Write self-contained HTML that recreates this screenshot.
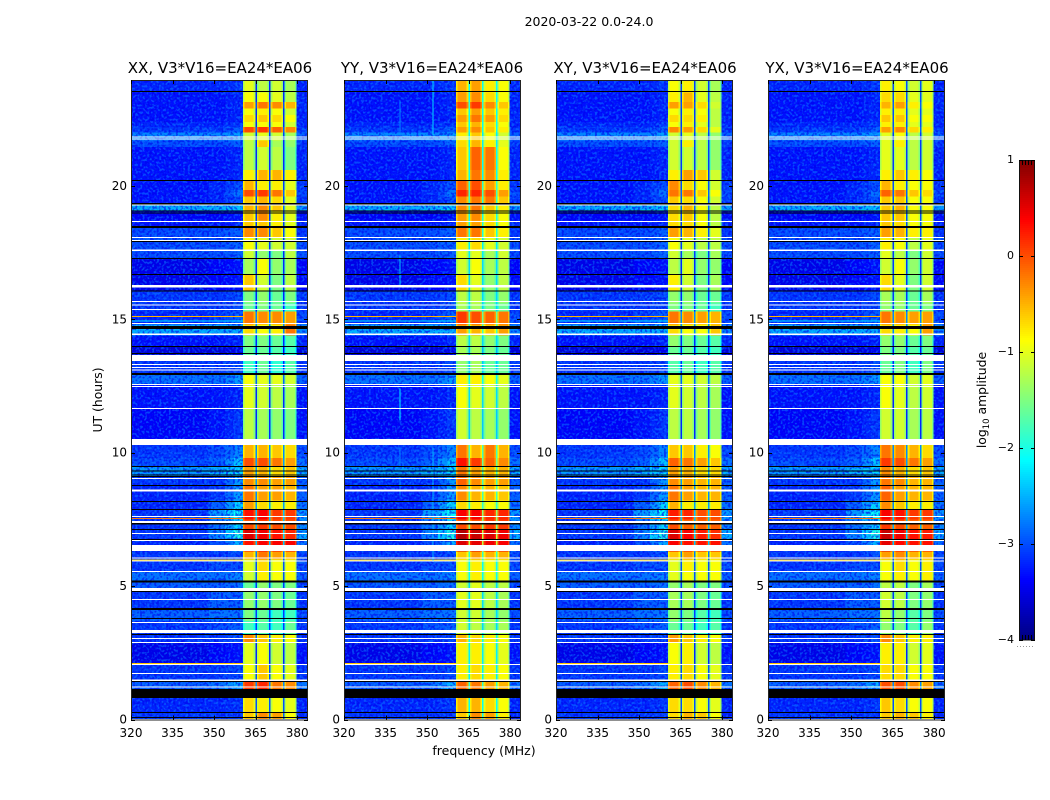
<!DOCTYPE html>
<html lang="en">
<head>
<meta charset="utf-8">
<title>2020-03-22 0.0-24.0</title>
<style>
html,body{margin:0;padding:0;background:#fff;}
svg{display:block;}
text{font-family:"DejaVu Sans","Liberation Sans",sans-serif;fill:#000;}
</style>
</head>
<body>
<svg id="figure" xmlns="http://www.w3.org/2000/svg" width="1050" height="800" viewBox="0 0 1050 800">
  <defs>
    <filter id="speckle-light" x="0" y="0" width="1" height="1" color-interpolation-filters="sRGB">
      <feTurbulence type="fractalNoise" baseFrequency="0.42" numOctaves="1" seed="5"/>
      <feColorMatrix type="matrix" values="0 0 0 0 0.04  0 0 0 0 0.47  0 0 0 0 1  9 0 0 0 -4.5"/>
    </filter>
    <filter id="speckle-dark" x="0" y="0" width="1" height="1" color-interpolation-filters="sRGB">
      <feTurbulence type="fractalNoise" baseFrequency="0.42" numOctaves="1" seed="11"/>
      <feColorMatrix type="matrix" values="0 0 0 0 0  0 0 0 0 0  0 0 0 0 0.92  9 0 0 0 -4.5"/>
    </filter>
  </defs>
  <rect x="0" y="0" width="1050" height="800" fill="#fff"/>
  <text x="589" y="26" font-size="12.5" text-anchor="middle">2020-03-22 0.0-24.0</text>
  <text x="220" y="73" font-size="15" text-anchor="middle">XX, V3*V16=EA24*EA06</text>
  <text x="432" y="73" font-size="15" text-anchor="middle">YY, V3*V16=EA24*EA06</text>
  <text x="645" y="73" font-size="15" text-anchor="middle">XY, V3*V16=EA24*EA06</text>
  <text x="857" y="73" font-size="15" text-anchor="middle">YX, V3*V16=EA24*EA06</text>
  <text x="484" y="755" font-size="12.5" text-anchor="middle">frequency (MHz)</text>
  <text transform="translate(102,400) rotate(-90)" font-size="12.4" text-anchor="middle">UT (hours)</text>
  <text transform="translate(986,400) rotate(-90)" font-size="12.4" text-anchor="middle">log<tspan font-size="8.5" dy="3">10</tspan><tspan dy="-3"> amplitude</tspan></text>
  <g id="panels"></g>
  <g id="colorbar"></g>
</svg>
<script>
// ---------- Axis tick values ----------
const xTickMHz = [320, 335, 350, 365, 380];
const yTickHours = [0, 5, 10, 15, 20];
const colorbarTicks = [1, 0, -1, -2, -3, -4];

// ---------- Frequency structure (MHz) ----------
const backgroundEdges = [320, 348, 354, 357.2, 360.4];
const bandEdges = [[360.4, 364.9], [365.4, 369.9], [370.4, 374.9], [375.4, 379.8]];
const separatorEdges = [[364.9, 365.4], [369.9, 370.4], [374.9, 375.4]];
const rightEdges = [379.8, 384];
const bandShoulderMHz = 0.6;
const bandShoulderDrop = 0.3;
const separatorOffsets = [-0.3, -0.3, -0.3, -0.6];

// ---------- Time rows (UT hours, top to bottom) ----------
const rowEdges = [24, 23.5, 23.15, 22.9, 22.65, 22.4, 22.2, 22, 21.7, 21.45, 20.6, 20.2, 19.85, 19.6, 19.3, 19.05, 18.7, 18.42, 18.08, 17.6, 17.28, 16.68, 16.05, 15.6, 15.3, 14.8, 14.4, 14, 13.44, 12.95, 12.55, 11.65, 10.5, 9.8, 9.5, 9.1, 8.75, 8.2, 7.87, 7.5, 7.12, 6.72, 6.3, 6, 5.55, 5.18, 4.8, 4.14, 3.7, 3.2, 2.9, 2.06, 1.47, 1.14, 0.28, 0];

// log10 amplitude per row: 320-348, 348-354, 354-360.4, 380-384 MHz
const backgroundLevels = [
[-3.2,-3.2,-3.1,-3.2],[-3.3,-3.3,-3.2,-3.2],[-3.3,-3.3,-3.2,-3.2],[-3.3,-3.3,-3.2,-3.2],[-3.3,-3.3,-3.2,-3.2],
[-3.2,-3.2,-3.1,-3.2],[-3.1,-3.1,-2.9,-3.1],[-2.7,-2.7,-2.6,-2.9],[-3.0,-3.0,-2.9,-3.1],[-3.3,-3.3,-3.2,-3.2],
[-3.3,-3.3,-3.2,-3.2],[-3.3,-3.2,-3.0,-3.1],[-3.3,-3.2,-2.8,-3.0],[-3.3,-3.2,-3.0,-3.1],[-2.5,-2.5,-2.4,-2.6],
[-3.4,-3.4,-3.3,-3.3],[-3.3,-3.3,-3.2,-3.2],[-3.0,-3.0,-2.9,-3.1],[-3.0,-3.0,-2.9,-3.0],[-3.0,-3.0,-2.9,-3.0],
[-3.5,-3.4,-3.3,-3.4],[-3.5,-3.4,-3.3,-3.4],[-3.1,-3.1,-3.0,-3.1],[-3.1,-3.1,-3.0,-3.1],[-3.2,-3.1,-2.9,-3.0],
[-2.5,-2.5,-2.5,-2.7],[-3.3,-3.3,-3.2,-3.2],[-3.6,-3.6,-3.5,-3.6],[-3.1,-3.1,-3.0,-3.1],[-2.8,-2.8,-2.6,-2.9],
[-3.3,-3.3,-3.2,-3.3],[-3.4,-3.3,-3.1,-3.3],[-3.1,-3.0,-2.7,-3.0],[-3.0,-2.9,-2.4,-2.8],[-2.6,-2.5,-2.3,-2.5],
[-3.1,-3.1,-2.6,-2.9],[-3.2,-3.1,-2.6,-2.9],[-3.2,-2.9,-2.3,-2.8],[-3.1,-2.6,-2.1,-2.6],[-3.1,-2.8,-2.3,-2.7],
[-3.1,-2.7,-2.0,-2.5],[-3.2,-3.0,-2.5,-2.8],[-3.1,-3.1,-3.0,-3.0],[-3.1,-3.0,-3.0,-3.0],[-2.8,-2.8,-2.7,-2.9],
[-2.9,-2.9,-2.8,-3.0],[-3.1,-2.9,-2.9,-3.1],[-2.9,-2.8,-2.8,-3.0],[-3.1,-3.0,-2.9,-3.1],[-3.1,-3.1,-3.0,-3.1],
[-3.5,-3.4,-3.3,-3.3],[-3.1,-3.1,-3.0,-3.1],[-2.9,-2.8,-2.5,-2.8],[-3.2,-3.2,-3.1,-3.2],[-3.1,-3.1,-3.1,-3.2]
];

// log10 amplitude per row: band 1, band 2, band 3, band 4, separator
const xxLevels = [
[-1.0,-1.2,-1.1,-1.3,-2.9],[-0.9,-0.9,-1.0,-1.2,-2.9],[-0.4,-0.2,-0.3,-0.5,-2.7],[-0.9,-0.8,-0.9,-1.1,-2.9],[-0.7,-0.6,-0.7,-0.9,-2.9],
[-0.9,-0.9,-0.9,-1.1,-2.9],[0.0,0.1,-0.1,-0.3,-2.6],[-1.1,-1.0,-1.1,-1.3,-2.8],[-1.2,-0.6,-1.3,-1.4,-2.9],[-1.2,-1.1,-1.2,-1.5,-2.9],
[-0.8,-0.5,-0.5,-0.8,-2.8],[-0.5,-0.8,-0.8,-1.0,-2.8],[0.0,0.1,-0.2,-0.6,-2.6],[-0.6,-0.5,-0.7,-1.0,-2.8],[-0.5,-0.3,-0.6,-1.0,-2.6],
[-0.6,-0.3,-0.8,-1.0,-2.8],[-0.6,-0.6,-0.8,-1.0,-2.8],[-0.3,-0.3,-0.6,-0.9,-2.7],[-0.9,-1.0,-1.1,-1.1,-2.8],[-1.1,-1.4,-1.5,-1.2,-2.9],
[-1.3,-0.9,-1.4,-1.3,-2.9],[-0.6,-1.1,-1.5,-1.2,-2.9],[-1.5,-1.4,-1.6,-1.5,-2.9],[-1.6,-1.5,-1.6,-1.8,-2.9],[-0.2,-0.3,-0.3,-0.4,-2.4],
[-0.7,-0.9,-0.8,-0.2,-2.4],[-1.5,-1.5,-1.6,-1.7,-2.9],[-1.6,-1.6,-1.7,-1.8,-3.1],[-1.8,-1.6,-1.9,-1.7,-2.9],[-0.9,-1.0,-1.0,-1.1,-2.6],
[-1.0,-1.1,-1.2,-1.3,-2.9],[-1.2,-1.3,-1.4,-1.5,-2.9],[-0.5,-0.5,-0.6,-0.7,-2.4],[0.0,0.0,-0.2,-0.4,-2.3],[-0.4,-0.5,-0.7,-0.6,-2.3],
[-0.3,-0.3,-0.4,-0.4,-2.3],[-0.2,-0.4,-0.4,-0.5,-2.4],[-0.4,-0.7,-0.8,-0.8,-2.3],[0.3,0.4,0.1,0.1,-2.1],[0.0,0.1,0.0,0.0,-2.2],
[0.55,0.45,0.3,0.2,-2.0],[0.3,0.4,0.4,0.4,-2.1],[-0.5,-0.2,-0.4,-0.5,-2.5],[-1.0,-0.7,-0.9,-0.9,-2.7],[-1.1,-0.8,-0.9,-0.9,-2.7],
[-1.6,-1.4,-1.5,-1.5,-2.8],[-1.4,-1.4,-1.5,-1.6,-2.8],[-1.5,-1.6,-1.8,-1.8,-2.8],[-1.8,-1.7,-1.8,-1.6,-2.8],[-0.3,-0.6,-0.8,-0.9,-2.6],
[-1.0,-0.9,-1.1,-1.2,-2.9],[-0.9,-0.6,-0.9,-1.0,-2.7],[0.1,0.2,-0.2,-0.3,-2.4],[-0.7,-0.8,-0.9,-1.0,-2.7],[-0.6,-0.3,-0.4,-0.9,-2.6]
];
const yyLevels = [
[-0.5,-0.4,-0.8,-0.9,-1.8],[-0.4,-0.3,-0.7,-0.9,-1.8],[0.0,0.1,-0.3,-0.6,-1.6],[-0.6,-0.4,-0.6,-0.8,-1.8],[-0.4,-0.2,-0.4,-0.7,-1.8],
[-0.6,-0.5,-0.7,-0.9,-1.8],[-0.4,-0.3,-0.6,-0.8,-1.8],[-0.8,-0.6,-0.9,-1.1,-1.9],[-0.7,-0.5,-0.8,-1.0,-1.9],[-0.6,-0.1,-0.2,-0.9,-1.8],
[-0.5,-0.2,-0.3,-0.8,-1.8],[-0.1,0.0,-0.4,-0.8,-1.6],[0.2,0.2,0.0,-0.4,-1.5],[-0.3,-0.2,-0.2,-0.6,-1.6],[-0.3,-0.2,-0.6,-0.8,-1.6],
[-0.4,-0.3,-0.7,-0.9,-1.7],[-0.4,-0.4,-0.7,-0.9,-1.7],[-0.2,-0.2,-0.6,-0.8,-1.7],[-0.8,-0.7,-1.0,-1.1,-1.9],[-1.0,-1.0,-1.3,-1.1,-1.9],
[-1.1,-0.9,-1.3,-1.2,-2.0],[-0.7,-1.0,-1.4,-1.2,-2.0],[-1.2,-1.2,-1.5,-1.4,-2.0],[-1.3,-1.3,-1.5,-1.6,-2.0],[0.1,0.0,-0.1,-0.2,-1.3],
[-0.4,-0.5,-0.6,-0.4,-1.5],[-1.2,-1.2,-1.4,-1.5,-2.0],[-1.3,-1.3,-1.5,-1.6,-2.2],[-1.4,-1.3,-1.6,-1.6,-2.1],[-0.8,-0.8,-0.9,-1.0,-1.8],
[-0.9,-1.0,-1.1,-1.2,-2.0],[-1.1,-1.2,-1.3,-1.4,-2.1],[-0.2,-0.5,-0.2,-0.5,-1.5],[0.3,0.1,-0.1,-0.3,-1.3],[-0.2,-0.4,-0.5,-0.5,-1.5],
[-0.1,-0.3,-0.4,-0.4,-1.5],[-0.3,-0.5,-0.5,-0.6,-1.5],[-0.7,-0.8,-0.9,-0.9,-1.6],[0.4,0.4,0.2,0.2,-1.1],[0.0,0.0,0.1,0.1,-1.2],
[0.75,0.65,0.55,0.45,-0.9],[0.55,0.5,0.45,0.4,-0.9],[-0.6,-0.4,-0.5,-0.5,-1.6],[-0.9,-0.8,-0.9,-0.9,-1.8],[-0.9,-0.8,-0.9,-0.9,-1.8],
[-1.1,-1.0,-1.2,-1.2,-2.0],[-1.0,-1.0,-1.2,-1.3,-2.0],[-1.1,-1.1,-1.3,-1.4,-2.0],[-1.1,-1.2,-1.3,-1.3,-2.0],[-0.5,-0.7,-0.8,-0.9,-1.8],
[-0.8,-0.8,-0.9,-1.0,-1.9],[-0.8,-0.7,-0.8,-0.9,-1.9],[-0.1,-0.2,-0.4,-0.5,-1.6],[-0.5,-0.5,-0.7,-0.9,-1.8],[-0.6,-0.3,-0.4,-0.8,-1.8]
];
const xyLevels = [
[-0.9,-0.8,-1.1,-1.3,-2.8],[-0.8,-0.5,-1.0,-1.2,-2.8],[-0.4,-0.4,-0.7,-1.1,-2.7],[-0.9,-0.8,-0.9,-1.2,-2.8],[-0.7,-0.7,-0.8,-1.2,-2.8],
[-0.9,-0.8,-1.0,-1.2,-2.8],[-0.3,-0.4,-0.7,-1.0,-2.7],[-1.1,-1.0,-1.2,-1.4,-2.8],[-1.1,-0.8,-1.2,-1.4,-2.8],[-1.1,-1.1,-1.2,-1.4,-2.8],
[-0.8,-0.4,-0.6,-1.1,-2.8],[-0.3,-0.7,-0.9,-1.1,-2.7],[-0.2,-0.2,-0.6,-0.9,-2.6],[-0.6,-0.7,-0.9,-1.1,-2.7],[-0.7,-0.5,-0.9,-1.2,-2.6],
[-0.7,-0.6,-0.9,-1.2,-2.8],[-0.7,-0.7,-0.9,-1.2,-2.8],[-0.4,-0.5,-0.8,-1.0,-2.7],[-0.9,-1.0,-1.2,-1.2,-2.8],[-1.1,-1.3,-1.5,-1.3,-2.8],
[-1.2,-1.0,-1.4,-1.4,-2.9],[-0.8,-1.1,-1.5,-1.3,-2.9],[-1.4,-1.4,-1.6,-1.6,-2.9],[-1.5,-1.5,-1.6,-1.8,-2.9],[-0.2,-0.3,-0.4,-0.5,-2.4],
[-0.7,-0.9,-0.9,-0.6,-2.4],[-1.4,-1.5,-1.6,-1.7,-2.9],[-1.6,-1.6,-1.7,-1.8,-3.1],[-1.7,-1.6,-1.8,-1.7,-2.9],[-1.0,-1.0,-1.1,-1.2,-2.6],
[-1.0,-1.1,-1.2,-1.3,-2.9],[-1.2,-1.2,-1.3,-1.4,-2.9],[-0.6,-0.6,-0.8,-0.9,-2.4],[-0.1,-0.2,-0.4,-0.6,-2.3],[-0.4,-0.5,-0.7,-0.7,-2.3],
[-0.3,-0.4,-0.5,-0.5,-2.3],[-0.2,-0.4,-0.5,-0.5,-2.4],[-0.5,-0.8,-0.8,-0.8,-2.3],[0.25,0.2,0.0,0.0,-2.1],[0.0,-0.1,-0.1,-0.1,-2.2],
[0.55,0.4,0.25,0.15,-2.0],[0.4,0.3,0.3,0.3,-2.1],[-0.6,-0.4,-0.6,-0.6,-2.5],[-1.0,-0.8,-0.9,-0.9,-2.7],[-1.0,-0.9,-0.9,-0.9,-2.7],
[-1.4,-1.3,-1.5,-1.5,-2.8],[-1.3,-1.3,-1.5,-1.6,-2.8],[-1.4,-1.5,-1.7,-1.8,-2.8],[-1.6,-1.6,-1.8,-1.7,-2.8],[-0.4,-0.6,-0.8,-0.9,-2.6],
[-0.9,-0.8,-1.1,-1.2,-2.9],[-0.8,-0.7,-0.9,-1.0,-2.7],[-0.1,0.0,-0.3,-0.5,-2.4],[-0.7,-0.7,-0.9,-1.0,-2.7],[-0.7,-0.5,-0.6,-0.9,-2.6]
];
const yxLevels = [
[-0.8,-0.9,-1.1,-1.0,-2.4],[-0.7,-0.7,-1.0,-1.0,-2.4],[-0.5,-0.4,-0.8,-0.9,-2.3],[-0.8,-0.8,-1.0,-1.0,-2.4],[-0.6,-0.6,-0.9,-0.9,-2.4],
[-0.8,-0.8,-1.0,-1.0,-2.4],[-0.4,-0.3,-0.7,-0.8,-2.3],[-1.0,-0.9,-1.2,-1.1,-2.5],[-1.0,-0.8,-1.2,-1.1,-2.5],[-1.0,-1.0,-1.2,-1.1,-2.5],
[-0.8,-0.6,-0.8,-0.9,-2.4],[-0.5,-0.8,-0.9,-0.9,-2.4],[-0.1,-0.2,-0.6,-0.7,-2.3],[-0.6,-0.6,-0.9,-0.9,-2.4],[-0.6,-0.5,-0.9,-0.9,-2.3],
[-0.6,-0.6,-0.9,-0.9,-2.4],[-0.6,-0.7,-0.9,-0.9,-2.4],[-0.4,-0.5,-0.8,-0.8,-2.4],[-0.8,-0.9,-1.2,-1.0,-2.5],[-1.0,-1.2,-1.5,-1.1,-2.5],
[-1.1,-0.9,-1.4,-1.1,-2.5],[-0.7,-1.0,-1.5,-1.1,-2.5],[-1.3,-1.3,-1.6,-1.3,-2.5],[-1.4,-1.4,-1.6,-1.5,-2.5],[-0.2,-0.3,-0.4,-0.4,-2.1],
[-0.7,-0.8,-0.9,-0.4,-2.1],[-1.4,-1.4,-1.6,-1.5,-2.6],[-1.5,-1.5,-1.7,-1.6,-2.7],[-1.6,-1.5,-1.8,-1.5,-2.6],[-0.9,-0.9,-1.1,-1.0,-2.4],
[-0.9,-1.0,-1.2,-1.1,-2.6],[-1.1,-1.1,-1.3,-1.2,-2.6],[-0.2,-0.3,-0.5,-0.7,-2.1],[0.1,0.0,-0.2,-0.4,-2.0],[-0.3,-0.5,-0.7,-0.6,-2.0],
[-0.2,-0.3,-0.5,-0.5,-2.0],[-0.1,-0.4,-0.5,-0.5,-2.1],[-0.3,-0.6,-0.8,-0.8,-2.1],[0.4,0.3,0.1,0.1,-1.8],[0.1,0.0,-0.1,-0.1,-1.9],
[0.65,0.45,0.3,0.25,-1.7],[0.5,0.35,0.3,0.3,-1.8],[-0.4,-0.3,-0.5,-0.5,-2.2],[-0.9,-0.7,-0.9,-0.8,-2.4],[-0.9,-0.8,-0.9,-0.8,-2.4],
[-1.2,-1.2,-1.5,-1.3,-2.5],[-1.1,-1.2,-1.5,-1.4,-2.5],[-1.2,-1.4,-1.7,-1.5,-2.5],[-1.4,-1.5,-1.7,-1.4,-2.5],[-0.3,-0.6,-0.8,-0.8,-2.3],
[-0.8,-0.8,-1.1,-1.0,-2.6],[-0.7,-0.7,-0.9,-0.9,-2.4],[0.0,0.0,-0.3,-0.4,-2.1],[-0.6,-0.7,-0.9,-0.9,-2.4],[-0.6,-0.5,-0.6,-0.8,-2.3]
];
const panelLevels = [xxLevels, yyLevels, xyLevels, yxLevels];
const panelKeys = ['xx', 'yy', 'xy', 'yx'];

// ---------- Narrow-band features: [start hour, end hour, log10 amplitude] ----------
const streakEvents = [[15.13, 15.08, -0.5], [7.55, 7.51, -0.2], [5.99, 5.96, -0.7], [2.11, 2.08, -0.6], [14.95, 14.92, -2.2]];
// [panel index, MHz, top hour, bottom hour, log10 amplitude]
const rfiLines = [[1, 352, 24, 21.9, -2.3], [1, 340, 23.2, 21.9, -2.7], [1, 340, 17.4, 16.2, -2.4], [1, 340, 12.4, 11.2, -2.2], [1, 352, 10.2, 5.9, -2.5], [1, 340, 10.2, 8.4, -2.7]];

// ---------- Flagged intervals (UT hours): [start, end] ----------
const blankIntervals = [[21.85,21.81],[21.78,21.74],[19.3,19.26],[18.68,18.65],[18.08,18.05],[17.97,17.93],[17.62,17.56],[16.28,16.19],[15.69,15.65],[15.55,15.51],[15.39,15.35],[14.86,14.82],[14.47,14.41],[13.66,13.44],[13.32,13.29],[13.21,13.18],[13.12,13.08],[12.57,12.54],[12.5,12.46],[11.68,11.64],[10.51,10.29],[9.05,9.01],[8.62,8.55],[7.63,7.59],[7.44,7.37],[6.99,6.95],[6.73,6.69],[6.54,6.32],[6.07,6.03],[5.96,5.92],[5.57,5.53],[4.93,4.82],[4.52,4.48],[3.66,3.62],[3.35,3.24],[3.05,3.02],[2.9,2.87],[2.08,2.04],[1.74,1.71],[1.5,1.44],[1.24,1.2],[0.02,0]];
const zeroIntervals = [[23.56,23.52],[20.22,20.18],[19.36,19.3],[19.08,19.04],[19.0,18.97],[18.5,18.42],[17.93,17.9],[17.3,17.26],[16.7,16.66],[16.08,16.04],[14.75,14.64],[14.0,13.96],[13.74,13.7],[12.99,12.91],[9.5,9.46],[9.33,9.3],[9.18,9.15],[9.13,9.09],[8.79,8.75],[8.19,8.15],[7.89,7.85],[7.37,7.31],[7.14,7.1],[6.77,6.73],[5.21,5.14],[4.82,4.78],[4.18,4.1],[3.81,3.77],[3.2,3.17],[1.44,1.41],[1.14,0.8],[0.28,0.25],[0.09,0.06]];

// ---------- Layout & scales ----------
const NS = 'http://www.w3.org/2000/svg';
const panelLeft = [131, 344, 556, 768];
const plotTop = 80;
const plotBottom = 719.5;
const plotWidth = 177;
const pxPerMHz = 2.77;
const pxPerHour = 26.68;
const cbarLeft = 1019, cbarRight = 1035, cbarTop = 160, cbarBottom = 640;

function xScale(panel, mhz) { return panelLeft[panel] + (mhz - 320) * pxPerMHz; }
function yScale(hour) { return Math.max(plotTop, plotBottom - hour * pxPerHour); }
function cbarY(level) { return cbarTop + (1 - level) / 5 * (cbarBottom - cbarTop); }
function jet(level) {
  const t = Math.min(1, Math.max(0, (level + 4) / 5));
  const ch = function (c) { return Math.round(255 * Math.min(1, Math.max(0, 1.5 - Math.abs(4 * t - c)))); };
  return 'rgb(' + ch(3) + ',' + ch(2) + ',' + ch(1) + ')';
}
function box(parent, x0, x1, y0, y1, fill) {
  const r = document.createElementNS(NS, 'rect');
  r.setAttribute('x', x0.toFixed(2));
  r.setAttribute('y', y0.toFixed(2));
  r.setAttribute('width', Math.max(0.5, x1 - x0).toFixed(2));
  r.setAttribute('height', Math.max(0.5, y1 - y0).toFixed(2));
  r.setAttribute('fill', fill);
  r.setAttribute('shape-rendering', 'crispEdges');
  parent.appendChild(r);
  return r;
}
function tickLine(parent, x1, y1, x2, y2) {
  const l = document.createElementNS(NS, 'line');
  l.setAttribute('x1', x1);
  l.setAttribute('y1', y1);
  l.setAttribute('x2', x2);
  l.setAttribute('y2', y2);
  l.setAttribute('stroke', '#000');
  l.setAttribute('stroke-width', '1');
  parent.appendChild(l);
  return l;
}
function label(parent, x, y, str, anchor) {
  const t = document.createElementNS(NS, 'text');
  t.setAttribute('x', x);
  t.setAttribute('y', y);
  t.setAttribute('font-size', '12');
  t.setAttribute('text-anchor', anchor);
  t.textContent = str;
  parent.appendChild(t);
  return t;
}

// ---------- Draw panels ----------
const panelsRoot = document.getElementById('panels');
panelLevels.forEach(function (levels, p) {
  const g = document.createElementNS(NS, 'g');
  
  
  panelsRoot.appendChild(g);

  const right = panelLeft[p] + plotWidth;

  // heatmap cells
  levels.forEach(function (row, i) {
    const y0 = yScale(rowEdges[i]);
    const y1 = yScale(rowEdges[i + 1]);
    const bg = backgroundLevels[i];
    const quietLevels = [bg[0], bg[1], (bg[1] + bg[2]) / 2, bg[2]];
    quietLevels.forEach(function (level, c) {
      const cell = box(g, xScale(p, backgroundEdges[c]), xScale(p, backgroundEdges[c + 1]), y0, y1, jet(level));
      
      
    });
    const rightCell = box(g, xScale(p, rightEdges[0]), right, y0, y1, jet(bg[3]));
    
    
    bandEdges.forEach(function (edge, b) {
      const coreCell = box(g, xScale(p, edge[0]), xScale(p, edge[1]), y0, y1, jet(row[b]));
      
      
      const leftShoulder = box(g, xScale(p, edge[0]), xScale(p, edge[0] + bandShoulderMHz), y0, y1, jet(row[b] - bandShoulderDrop));
      
      
      const rightShoulder = box(g, xScale(p, edge[1] - bandShoulderMHz), xScale(p, edge[1]), y0, y1, jet(row[b] - bandShoulderDrop));
      
      
    });
    separatorEdges.forEach(function (edge) {
      const sepCell = box(g, xScale(p, edge[0]), xScale(p, edge[1]), y0, y1, jet(row[4] + separatorOffsets[p]));
      
      
    });
  });

  // decorative pixel-grain texture over the quiet channels
  ['speckle-light', 'speckle-dark'].forEach(function (id) {
    const leftGrain = box(g, panelLeft[p], xScale(p, 360.4), plotTop, plotBottom, '#000');
    leftGrain.setAttribute('filter', 'url(#' + id + ')');
    leftGrain.setAttribute('opacity', '0.55');
    
    
    const rightGrain = box(g, xScale(p, rightEdges[0]), right, plotTop, plotBottom, '#000');
    rightGrain.setAttribute('filter', 'url(#' + id + ')');
    rightGrain.setAttribute('opacity', '0.55');
    
    
  });

  // narrow-band events
  streakEvents.forEach(function (ev) {
    const streak = box(g, panelLeft[p], xScale(p, 360.4), yScale(ev[0]), yScale(ev[1]), jet(ev[2]));
    
    
  });
  rfiLines.forEach(function (ln) {
    if (ln[0] !== p) return;
    const rfi = box(g, xScale(p, ln[1]), xScale(p, ln[1]) + 1, yScale(ln[2]), yScale(ln[3]), jet(ln[4]));
    
    
  });

  // flagged time ranges
  zeroIntervals.forEach(function (iv) {
    const zero = box(g, panelLeft[p], right, yScale(iv[0]), yScale(iv[1]), '#000');
    
    
  });
  blankIntervals.forEach(function (iv) {
    const blank = box(g, panelLeft[p], right, yScale(iv[0]), yScale(iv[1]), '#fff');
    
    
  });

  // frame
  const frame = document.createElementNS(NS, 'rect');
  frame.setAttribute('x', panelLeft[p] + 0.5);
  frame.setAttribute('y', plotTop + 0.5);
  frame.setAttribute('width', plotWidth - 1);
  frame.setAttribute('height', plotBottom - plotTop);
  frame.setAttribute('fill', 'none');
  frame.setAttribute('stroke', '#222');
  frame.setAttribute('stroke-width', '1');
  
  
  g.appendChild(frame);

  // ticks
  xTickMHz.forEach(function (mhz) {
    const x = Math.round(xScale(p, mhz)) + 0.5;
    const bt = tickLine(g, x, plotBottom, x, plotBottom - 4);
    
    
    const tt = tickLine(g, x, plotTop, x, plotTop + 4);
    
    
    const xl = label(g, xScale(p, mhz), 737, String(mhz), 'middle');
    
    
  });
  yTickHours.forEach(function (hour) {
    const y = Math.round(yScale(hour)) + 0.5;
    const lt = tickLine(g, panelLeft[p], y, panelLeft[p] + 4, y);
    
    
    const rt = tickLine(g, right, y, right - 4, y);
    
    
    const yl = label(g, panelLeft[p] - 4, yScale(hour) + 4, String(hour), 'end');
    
    
  });
});

// ---------- Draw colorbar ----------
const cbarRoot = document.getElementById('colorbar');
for (let py = cbarTop; py < cbarBottom; py += 2) {
  const lv = 1 - (py + 1 - cbarTop) / (cbarBottom - cbarTop) * 5;
  const swatch = box(cbarRoot, cbarLeft, cbarRight, py, py + 2, jet(lv));
  
  
}
const cbarFrame = document.createElementNS(NS, 'rect');
cbarFrame.setAttribute('x', cbarLeft + 0.5);
cbarFrame.setAttribute('y', cbarTop + 0.5);
cbarFrame.setAttribute('width', cbarRight - cbarLeft - 1);
cbarFrame.setAttribute('height', cbarBottom - cbarTop - 0.5);
cbarFrame.setAttribute('fill', 'none');
cbarFrame.setAttribute('stroke', '#111');


cbarRoot.appendChild(cbarFrame);
colorbarTicks.forEach(function (lv) {
  const y = Math.round(cbarY(lv)) + 0.5;
  const cl = tickLine(cbarRoot, cbarLeft, y, cbarLeft + 4, y);
  
  
  const cr = tickLine(cbarRoot, cbarRight, y, cbarRight - 4, y);
  
  
  const cText = lv < 0 ? '\u2212' + Math.abs(lv) : String(lv);
  const ct = label(cbarRoot, cbarLeft - 5, cbarY(lv) + 3, cText, 'end');
  ct.setAttribute('font-size', '11');
  
  
});
[1022.5, 1025.5, 1028.5, 1031.5].forEach(function (x) {
  const topComb = tickLine(cbarRoot, x, cbarTop, x, cbarTop + 5);
  
  
  const botComb = tickLine(cbarRoot, x, cbarBottom, x, cbarBottom - 5);
  
  
});
const cbarDots = tickLine(cbarRoot, 1017, 646.5, 1035, 646.5);
cbarDots.setAttribute('stroke', '#999');
cbarDots.setAttribute('stroke-dasharray', '1 2');


</script>
</body>
</html>
